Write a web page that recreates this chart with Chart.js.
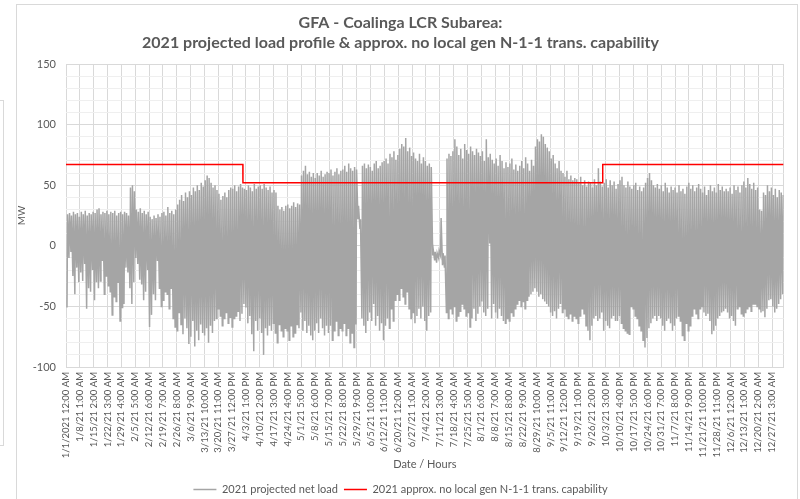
<!DOCTYPE html>
<html>
<head>
  <title>GFA - Coalinga LCR Subarea</title>
  <script src="https://cdn.jsdelivr.net/npm/chart.js"></script>
  <style>
    body { margin: 0; background: #fff; }
    #wrap { position: relative; width: 800px; height: 499px; overflow: hidden; }
    #frame { position: absolute; left: 16px; top: 4px; width: 780px; height: 510px; border: 1px solid #d9d9d9; pointer-events: none; }
    #side { position: absolute; left: -200px; top: 100px; width: 202px; height: 344px; border: 1px solid #d9d9d9; }
    canvas { position: absolute; left: 0; top: 0; }
  </style>
</head>
<body>
<div id="wrap">
  <canvas id="loadChart" width="800" height="499"></canvas>
  <div id="side"></div>
  <div id="frame"></div>
</div>

<script>
  // ====================
  // data (MW)
  // ====================
  // daily peak of the net load, one value per day, a row per week
  const dailyHigh = [
    26, 27, 25, 28, 26, 27, 24,   // 1/1
    28, 26, 29, 25, 27, 26, 28,
    27, 30, 31, 26, 28, 27, 29,
    26, 28, 27, 29, 25, 27, 28,
    26, 28, 27, 25, 48, 50, 45,   // 1/29
    30, 28, 31, 27, 29, 26, 28,
    24, 22, 25, 23, 26, 24, 27,
    28, 25, 32, 27, 29, 26, 30,
    34, 38, 42, 37, 44, 40, 45,   // 2/26
    42, 48, 45, 50, 46, 52, 49,
    54, 58, 56, 52, 48, 50, 46,
    43, 38, 41, 44, 40, 46, 48,
    47, 50, 45, 49, 51, 48, 47,   // 3/26
    46, 50, 48, 45, 51, 47, 49,
    50, 47, 51, 48, 46, 49, 44,
    46, 44, 33, 30, 32, 29, 33,
    34, 31, 33, 36, 32, 35, 34,   // 4/23
    58, 62, 66, 59, 61, 57, 60,
    56, 60, 58, 62, 57, 59, 61,
    60, 63, 58, 61, 64, 59, 62,
    63, 66, 61, 68, 64, 62, 65,   // 5/21
    63, 33, 22, 66, 68, 64, 67,
    65, 62, 68, 70, 64, 66, 69,
    70, 72, 68, 76, 73, 78, 71,
    75, 80, 84, 82, 89, 78, 81,   // 6/18
    74, 77, 72, 70, 76, 68, 73,
    70, 66, 68, 65, -3, -5, -6,
    -4, 23, -6, -8, 72, 76, 74,
    78, 88, 82, 75, 80, 72, 84,   // 7/16
    79, 76, 82, 78, 75, 80, 77,
    74, 78, 70, 88, 73, 76, 71,
    68, 72, 66, 75, 70, 64, 69,
    65, 68, 72, 63, 67, 62, 66,   // 8/13
    70, 64, 73, 68, 62, 71, 66,
    82, 88, 86, 92, 90, 84, 81,
    78, 72, 75, 68, 64, 70, 62,
    60, 57, 62, 55, 58, 54, 56,   // 9/10
    55, 52, 57, 50, 54, 49, 53,
    52, 48, 55, 50, 64, 53, 49,
    52, 55, 48, 54, 50, 53, 47,
    51, 54, 57, 50, 48, 53, 49,   // 10/8
    47, 50, 52, 46, 49, 45, 48,
    52, 56, 60, 54, 50, 48, 51,
    47, 50, 45, 52, 48, 44, 49,
    46, 48, 44, 50, 45, 47, 43,   // 11/5
    49, 52, 47, 50, 45, 48, 51,
    47, 44, 49, 42, 46, 50, 45,
    48, 44, 51, 46, 49, 45, 47,
    45, 48, 43, 50, 46, 49, 44,   // 12/3
    50, 53, 48, 56, 51, 47, 52,
    46, 48, 30, 29, 44, 42, 50,
    45, 48, 42, 47, 40, 46, 44,
    42
  ];

  // daily minimum of the net load (midday solar dip)
  const dailyLow = [
    -51, -10, -5, -25, -40, -18, -30,
    -22, -29, -15, -52, -35, -38, -20,
    -45, -30, -35, -29, -12, -40, -25,
    -33, -38, -57, -42, -46, -30, -62,
    -51, -48, -18, -22, -35, -48, -30,
    -10, -15, -28, -32, -45, -38, -20,
    -67, -57, -40, -45, -12, -35, -50,
    -45, -38, -40, -52, -35, -60, -67,
    -70, -55, -65, -73, -60, -68, -81,
    -75, -62, -83, -70, -78, -65, -72,
    -74, -68, -80, -66, -72, -62, -60,
    -52, -58, -66, -60, -55, -64, -59,
    -67, -60, -58, -54, -62, -56, -48,
    -51, -64, -58, -73, -87, -62, -70,
    -60, -72, -90, -68, -74, -66, -70,
    -64, -72, -80, -65, -70, -75, -68,
    -70, -78, -66, -75, -72, -65, -68,
    -55, -70, -62, -72, -66, -74, -78,
    -70, -64, -72, -60, -68, -74, -66,
    -72, -66, -78, -70, -62, -74, -68,
    -70, -64, -74, -68, -80, -72, -84,
    -65, 22, 14, -60, -66, -72, -62,
    -55, -62, -48, -66, -58, -70, -64,
    -78, -66, -60, -68, -52, -62, -45,
    -40, -45, -35, -42, -48, -38, -52,
    -60, -55, -64, -58, -52, -60, -50,
    -62, -70, -58, -55, -8, -12, -14,
    -10, -8, -16, -18, -55, -60, -52,
    -56, -50, -62, -58, -54, -48, -52,
    -58, -55, -67, -60, -52, -62, -56,
    -50, -46, -55, -58, -52, 2, -60,
    -48, -55, -60, -52, -58, -62, -64,
    -60, -62, -55, -58, -52, -48, -45,
    -50, -46, -52, -45, -42, -40, -38,
    -35, -38, -42, -40, -44, -46, -48,
    -50, -55, -58, -54, -60, -52, -48,
    -55, -52, -58, -60, -56, -62, -58,
    -60, -64, -58, -52, -56, -66, -70,
    -78, -66, -60, -58, -62, -60, -55,
    -70, -62, -66, -68, -60, -58, -62,
    -62, -58, -64, -68, -70, -72, -73,
    -50, -52, -58, -60, -66, -70, -78,
    -84, -76, -68, -64, -60, -58, -62,
    -58, -60, -66, -70, -62, -60, -64,
    -70, -66, -60, -58, -62, -74, -78,
    -64, -70, -66, -58, -52, -56, -60,
    -52, -50, -55, -58, -56, -62, -73,
    -70, -66, -60, -58, -55, -54, -52,
    -55, -60, -58, -62, -66, -52, -50,
    -56, -58, -55, -52, -50, -54, -48,
    -48, -50, -52, -55, -54, -59, -52,
    -45, -44, -50, -55, -52, -48, -44,
    -40
  ];

  // transmission capability: hour of year where the level changes
  const capHours = [0, 2159, 2160, 6551, 6552, 8759];
  const capMW = [67, 67, 52, 52, 67, 67];

  // category labels, one every 169 hours like the spreadsheet
  const tickLabels = [
    '1/1/2021 12:00 AM', '1/8/21 1:00 AM', '1/15/21 2:00 AM', '1/22/21 3:00 AM',
    '1/29/21 4:00 AM', '2/5/21 5:00 AM', '2/12/21 6:00 AM', '2/19/21 7:00 AM',
    '2/26/21 8:00 AM', '3/6/21 9:00 AM', '3/13/21 10:00 AM', '3/20/21 11:00 AM',
    '3/27/21 12:00 PM', '4/3/21 1:00 PM', '4/10/21 2:00 PM', '4/17/21 3:00 PM',
    '4/24/21 4:00 PM', '5/1/21 5:00 PM', '5/8/21 6:00 PM', '5/15/21 7:00 PM',
    '5/22/21 8:00 PM', '5/29/21 9:00 PM', '6/5/21 10:00 PM', '6/12/21 11:00 PM',
    '6/20/21 12:00 AM', '6/27/21 1:00 AM', '7/4/21 2:00 AM', '7/11/21 3:00 AM',
    '7/18/21 4:00 AM', '7/25/21 5:00 AM', '8/1/21 6:00 AM', '8/8/21 7:00 AM',
    '8/15/21 8:00 AM', '8/22/21 9:00 AM', '8/29/21 10:00 AM', '9/5/21 11:00 AM',
    '9/12/21 12:00 PM', '9/19/21 1:00 PM', '9/26/21 2:00 PM', '10/3/21 3:00 PM',
    '10/10/21 4:00 PM', '10/17/21 5:00 PM', '10/24/21 6:00 PM', '10/31/21 7:00 PM',
    '11/7/21 8:00 PM', '11/14/21 9:00 PM', '11/21/21 10:00 PM', '11/28/21 11:00 PM',
    '12/6/21 12:00 AM', '12/13/21 1:00 AM', '12/20/21 2:00 AM', '12/27/21 3:00 AM'
  ];
  const labelStep = 169;
  const hoursInYear = 8760;

  // ====================
  // build datasets
  // ====================
  const loadPoints = [];
  dailyLow.forEach((lo, d) => {
    loadPoints.push({ x: d * 24 + 12, y: lo });
    loadPoints.push({ x: d * 24 + 19, y: dailyHigh[d] });
  });
  const capPoints = capHours.map((h, i) => ({ x: h, y: capMW[i] }));

  const textGrey = '#595959';

  new Chart(document.getElementById('loadChart'), {
    type: 'line',
    data: {
      datasets: [
        {
          label: '2021 projected net load',
          data: loadPoints,
          borderColor: '#A5A5A5',
          backgroundColor: '#A5A5A5',
          borderWidth: 1.5,
          pointRadius: 0,
          tension: 0,
          order: 2
        },
        {
          label: '2021 approx. no local gen N-1-1 trans. capability',
          data: capPoints,
          borderColor: '#FF0000',
          backgroundColor: '#FF0000',
          borderWidth: 1.5,
          pointRadius: 0,
          order: 1   // red line on top of the grey band
        }
      ]
    },
    options: {
      responsive: false,
      animation: false,
      layout: { padding: { left: 16, right: 15, top: 6, bottom: -6 } },
      plugins: {
        title: {
          display: true,
          text: ['GFA - Coalinga LCR Subarea:', '2021 projected load profile & approx. no local gen N-1-1 trans. capability'],
          color: textGrey,
          font: { family: 'Lato', size: 16, weight: 'bold', lineHeight: 1.25 },
          padding: { top: 7, bottom: 11 }
        },
        legend: {
          position: 'bottom',
          labels: {
            usePointStyle: true,
            pointStyle: 'line',
            pointStyleWidth: 23,
            color: textGrey,
            font: { family: 'Lato', size: 11 },
            padding: 6,
            sort: (a, b) => a.datasetIndex - b.datasetIndex
          }
        },
        tooltip: { enabled: false }
      },
      scales: {
        x: {
          type: 'linear',
          min: 0,
          max: hoursInYear,
          afterBuildTicks: s => {
            s.ticks = tickLabels.map((t, i) => ({ value: i * labelStep }));
            s.ticks.push({ value: hoursInYear });
          },
          afterFit: s => { s.height = 111; },
          ticks: {
            autoSkip: false,
            maxRotation: 90,
            minRotation: 90,
            padding: 5,
            color: textGrey,
            font: { family: 'Lato', size: 9.5 },
            callback: (v, i) => tickLabels[i] || ''
          },
          grid: { color: '#D9D9D9', drawTicks: false },
          border: { color: '#D9D9D9' },
          title: {
            display: true,
            text: 'Date / Hours',
            color: textGrey,
            font: { family: 'Lato', size: 11 },
            padding: { top: 0, bottom: 7 }
          }
        },
        y: {
          min: -100,
          max: 150,
          afterFit: s => { s.width = 50; },
          ticks: {
            autoSkip: false,
            stepSize: 10,
            padding: 10,
            color: textGrey,
            font: { family: 'Lato', size: 11 },
            callback: v => (v % 50 === 0 ? v : '')
          },
          grid: {
            color: c => (c.tick && c.tick.value % 50 === 0 ? '#D9D9D9' : '#EFEFEF'),
            drawTicks: false
          },
          border: { display: false },
          title: {
            display: true,
            text: 'MW',
            color: textGrey,
            font: { family: 'Lato', size: 10 },
            padding: { top: 0, bottom: 0 }
          }
        }
      }
    }
  });
</script>
</body>
</html>
